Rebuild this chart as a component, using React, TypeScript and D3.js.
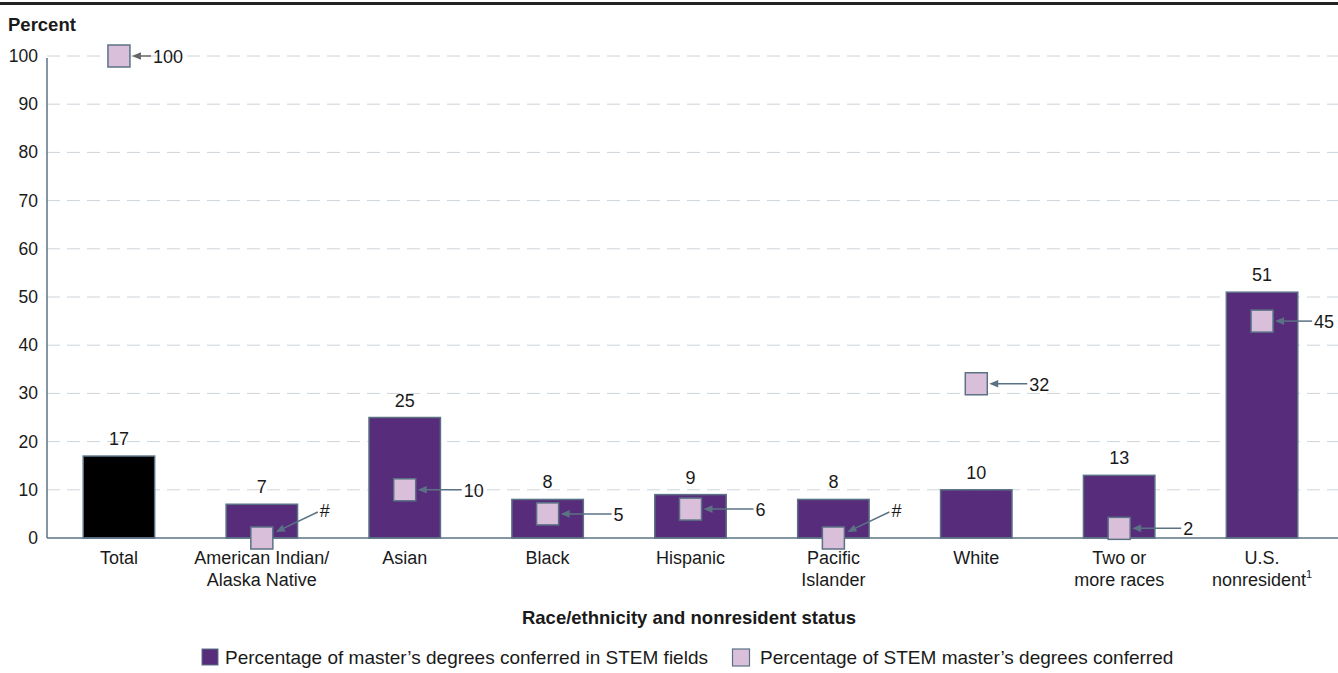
import React from "react";
import * as d3 from "d3";

// Categories along the x axis (line breaks marked with "|")
const categories = [
  "Total",
  "American Indian/|Alaska Native",
  "Asian",
  "Black",
  "Hispanic",
  "Pacific|Islander",
  "White",
  "Two or|more races",
  "U.S.|nonresident",
];

// Percentage of master's degrees conferred in STEM fields
const stemShare = [17, 7, 25, 8, 9, 8, 10, 13, 51];

// Percentage of STEM master's degrees conferred ("#" rounds to zero)
const stemDistribution = [100, 0, 10, 5, 6, 0, 32, 2, 45];
const stemDistributionLabels = ["100", "#", "10", "5", "6", "#", "32", "2", "45"];

const yTicks = [0, 10, 20, 30, 40, 50, 60, 70, 80, 90, 100];

const W = 1338;
const H = 673;
const FONT = "'Liberation Sans', Arial, Helvetica, sans-serif";
const PURPLE = "#572c7a";
const LILAC = "#d9bfda";
const EDGE = "#5b7285";
const GRID = "#ccd4da";
const TEXT = "#1a1a1a";

// Gap between a marker's right edge and its callout label, per category
const calloutGap = [23, 0, 48, 55, 54, 0, 42, 53, 41];

export default function App() {
  const x = d3
    .scaleBand<string>()
    .domain(categories)
    .range([47.5, 1333.5])
    .paddingInner(0.5)
    .paddingOuter(0.25);
  const y = d3.scaleLinear().domain([0, 100]).range([538, 56]);
  const sq = 22;

  const arrowHead = (tx: number, ty: number, angle: number, color: string) => {
    const len = 9;
    const half = 3.8;
    const pts: [number, number][] = [
      [0, 0],
      [len, -half],
      [len, half],
    ];
    const c = Math.cos(angle);
    const s = Math.sin(angle);
    const p = pts
      .map(([px, py]) => `${tx + px * c - py * s},${ty + px * s + py * c}`)
      .join(" ");
    return <polygon points={p} fill={color} />;
  };

  return (
    <div style={{ position: "absolute", left: 0, top: 0 }}>
      <svg width={W} height={H} style={{ display: "block", background: "#fff" }} fontFamily={FONT}>
        <line x1={0} x2={W} y1={3.5} y2={3.5} stroke="#222" strokeWidth={3} />
        <text x={8} y={31} fontSize={18.5} fontWeight="bold" fill={TEXT}>
          Percent
        </text>

        {/* gridlines and y tick labels */}
        {yTicks.map((t) => (
          <g key={t}>
            {t > 0 && (
              <line
                x1={47}
                x2={W}
                y1={y(t)}
                y2={y(t)}
                stroke={GRID}
                strokeWidth={1}
                strokeDasharray="13 7"
              />
            )}
            <text x={38} y={y(t) + 6} textAnchor="end" fontSize={17.5} fill={TEXT}>
              {t}
            </text>
          </g>
        ))}

        {/* bars */}
        {categories.map((c, i) => (
          <g key={c}>
            <rect
              x={x(c)!}
              y={y(stemShare[i])}
              width={x.bandwidth()}
              height={y(0) - y(stemShare[i])}
              fill={i === 0 ? "#000" : PURPLE}
              stroke={EDGE}
              strokeWidth={1.5}
            />
            <text
              x={x(c)! + x.bandwidth() / 2}
              y={y(stemShare[i]) - 11}
              textAnchor="middle"
              fontSize={18}
              fill={TEXT}
            >
              {stemShare[i]}
            </text>
          </g>
        ))}

        {/* axes */}
        <line x1={47} x2={47} y1={y(100) + 2} y2={y(0)} stroke={EDGE} strokeWidth={1.5} />
        <line x1={47} x2={W} y1={y(0)} y2={y(0)} stroke={EDGE} strokeWidth={1.5} />

        {/* markers with callouts */}
        {categories.map((c, i) => {
          const cx = x(c)! + x.bandwidth() / 2;
          const cy = y(stemDistribution[i]);
          const label = stemDistributionLabels[i];
          const color = i === 0 ? "#666" : EDGE;
          let callout;
          if (label === "#") {
            const tipX = cx + sq / 2 + 3;
            const tipY = cy - 6;
            const tailX = cx + 56;
            const tailY = cy - 26;
            const ang = Math.atan2(tailY - tipY, tailX - tipX);
            callout = (
              <g>
                <line x1={tipX + 6} y1={tipY + 6 * Math.tan(ang)} x2={tailX} y2={tailY} stroke={color} strokeWidth={1.5} />
                {arrowHead(tipX, tipY, ang, color)}
                <text x={tailX + 2} y={tailY + 5} fontSize={18} fill={TEXT}>
                  #
                </text>
              </g>
            );
          } else {
            const tipX = cx + sq / 2 + 2;
            const labelX = cx + sq / 2 + calloutGap[i];
            callout = (
              <g>
                <line x1={tipX + 6} x2={labelX - 2} y1={cy} y2={cy} stroke={color} strokeWidth={1.5} />
                {arrowHead(tipX, cy, 0, color)}
                <text x={labelX} y={cy + 7} fontSize={18} fill={TEXT}>
                  {label}
                </text>
              </g>
            );
          }
          return (
            <g key={c}>
              <rect
                x={cx - sq / 2}
                y={cy - sq / 2}
                width={sq}
                height={sq}
                fill={LILAC}
                stroke={EDGE}
                strokeWidth={1.5}
              />
              {callout}
            </g>
          );
        })}

        {/* category labels */}
        {categories.map((c) => {
          const lines = c.split("|");
          const cx = x(c)! + x.bandwidth() / 2;
          return (
            <text key={c} x={cx} textAnchor="middle" fontSize={18} fill={TEXT}>
              {lines.map((ln, j) => (
                <tspan key={j} x={cx} y={564 + j * 22}>
                  {ln}
                  {ln === "nonresident" && (
                    <tspan fontSize={11} dy={-8}>
                      1
                    </tspan>
                  )}
                </tspan>
              ))}
            </text>
          );
        })}

        <text x={689} y={624} textAnchor="middle" fontSize={18.5} fontWeight="bold" fill={TEXT}>
          Race/ethnicity and nonresident status
        </text>

        {/* legend */}
        <rect x={202} y={649} width={16} height={16} fill={PURPLE} stroke={EDGE} strokeWidth={1} />
        <text x={225} y={664} fontSize={19} fill={TEXT}>
          Percentage of master’s degrees conferred in STEM fields
        </text>
        <rect x={732.5} y={649} width={17} height={17} fill={LILAC} stroke={EDGE} strokeWidth={1.2} />
        <text x={760} y={664} fontSize={19} fill={TEXT}>
          Percentage of STEM master’s degrees conferred
        </text>
      </svg>
    </div>
  );
}
